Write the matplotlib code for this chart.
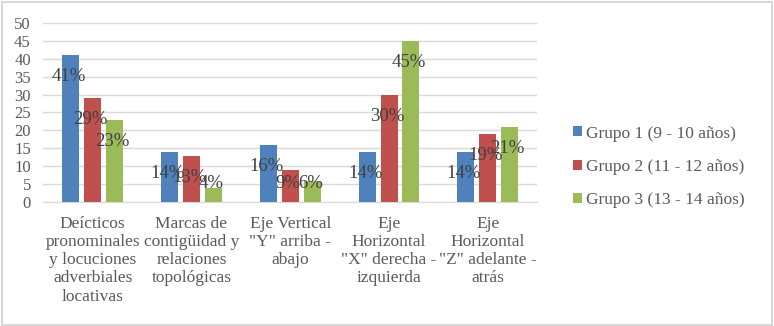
import matplotlib.pyplot as plt
import numpy as np
from matplotlib.patches import Rectangle

plt.rcParams['font.family'] = ['Liberation Serif', 'DejaVu Serif']

categorias = ['Deícticos\npronominales\ny locuciones\nadverbiales\nlocativas',
              'Marcas de\ncontigüidad y\nrelaciones\ntopológicas',
              'Eje Vertical\n"Y" arriba -\nabajo',
              'Eje\nHorizontal\n"X" derecha -\nizquierda',
              'Eje\nHorizontal\n"Z" adelante -\natrás']
grupos = ['Grupo 1 (9 - 10 años)', 'Grupo 2 (11 - 12 años)', 'Grupo 3 (13 - 14 años)']
grupo1 = [41, 14, 16, 14, 14]
grupo2 = [29, 13, 9, 30, 19]
grupo3 = [23, 4, 6, 45, 21]
colores = ['#4F81BD', '#C0504D', '#9BBB59']

fig = plt.figure(figsize=(7.74, 3.26), dpi=100)
ax = fig.add_axes([0.056, 0.38, 0.638, 0.55])

x = np.arange(len(categorias))
ancho = 0.172
paso = 0.222
series = [grupo1, grupo2, grupo3]
for i, (vals, col, nom) in enumerate(zip(series, colores, grupos)):
    pos = x + (i - 1) * paso
    ax.bar(pos, vals, width=ancho, color=col, label=nom, zorder=3)
    for p, v in zip(pos, vals):
        ax.text(p - 0.02, max(v - 6, 5.3), f'{v}%', ha='center', va='center',
                fontsize=13.5, color='#404040', zorder=4)

ax.set_xlim(-0.5, len(categorias) - 0.5)
ax.set_ylim(0, 50)
ax.set_yticks(range(0, 51, 5))
ax.yaxis.grid(True, color='#D9D9D9', linewidth=1, zorder=0)
for s in ['top', 'right', 'left']:
    ax.spines[s].set_visible(False)
ax.spines['bottom'].set_color('#D9D9D9')
ax.tick_params(axis='both', length=0, colors='#595959')
ax.tick_params(axis='y', pad=9, labelsize=12)
ax.set_xticks(x)
ax.set_xticklabels(categorias, linespacing=1.18, fontsize=12.5)
ax.tick_params(axis='x', pad=10)

leg = fig.legend(loc='center left', bbox_to_anchor=(0.72, 0.488), frameon=False,
                 fontsize=12.5, handlelength=0.5, handleheight=0.5,
                 handletextpad=0.25, labelspacing=1.0, labelcolor='#595959')

fig.patches.append(Rectangle((0.002, 0.004), 0.995, 0.99, transform=fig.transFigure,
                             fill=False, edgecolor='#D0D0D0', linewidth=1.2))

fig.savefig('out.png', dpi=100)
